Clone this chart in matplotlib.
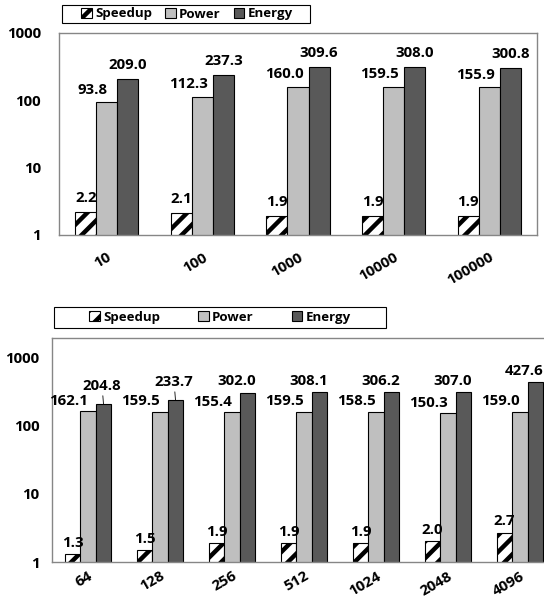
import matplotlib
matplotlib.use("Agg")
import matplotlib.pyplot as plt
from matplotlib.patches import Rectangle
import numpy as np

plt.rcParams['font.family'] = ['Open Sans', 'DejaVu Sans']
plt.rcParams['font.weight'] = 'bold'
plt.rcParams['hatch.linewidth'] = 3.2

# top chart data
top_labels = ['10', '100', '1000', '10000', '100000']
top_speedup = [2.2, 2.1, 1.9, 1.9, 1.9]
top_power = [93.8, 112.3, 160.0, 159.5, 155.9]
top_energy = [209.0, 237.3, 309.6, 308.0, 300.8]

# bottom chart data
bot_labels = ['64', '128', '256', '512', '1024', '2048', '4096']
bot_speedup = [1.3, 1.5, 1.9, 1.9, 1.9, 2.0, 2.7]
bot_power = [162.1, 159.5, 155.4, 159.5, 158.5, 150.3, 159.0]
bot_energy = [204.8, 233.7, 302.0, 308.1, 306.2, 307.0, 427.6]

power_col = '#bfbfbf'
energy_col = '#595959'
fs = 10.8      # numbers
lfs = 9.5      # legend

fig = plt.figure(figsize=(5.44, 6.02), dpi=100)


def draw(ax, labels, sp, pw, en, bw, ytop, pad, xpad, pw_dx, en_dx, gap, leaders=()):
    x = np.arange(len(labels))
    ax.bar(x - bw, sp, bw, bottom=0, color='white', edgecolor='black',
           hatch='//', linewidth=0.8, label='Speedup')
    ax.bar(x, pw, bw, color=power_col, edgecolor='black', linewidth=0.8, label='Power')
    ax.bar(x + bw, en, bw, color=energy_col, edgecolor='black', linewidth=0.8, label='Energy')
    ax.set_yscale('log')
    ax.set_ylim(1, ytop)
    ax.set_xlim(-0.5, len(labels) - 0.5)
    ax.set_yticks([1, 10, 100, 1000])
    ax.set_yticklabels(['1', '10', '100', '1000'], fontsize=fs, fontweight='bold')
    ax.minorticks_off()
    ax.set_xticks(x)
    ax.set_xticklabels(labels, rotation=30, ha='right', va='top',
                       rotation_mode='anchor', fontsize=fs, fontweight='bold')
    ax.tick_params(axis='y', length=0, pad=pad)
    ax.tick_params(axis='x', length=0, pad=xpad)
    for s in ax.spines.values():
        s.set_color('#868686')
        s.set_linewidth(1.0)
    for i in range(len(labels)):
        ax.annotate(f'{sp[i]:.1f}', (x[i] - bw, sp[i]), xytext=(0, gap),
                    textcoords='offset points', ha='center', va='bottom',
                    fontsize=fs, fontweight='bold')
        ax.annotate(f'{pw[i]:.1f}', (x[i], pw[i]), xytext=(pw_dx, gap * 0.8),
                    textcoords='offset points', ha='center', va='bottom',
                    fontsize=fs, fontweight='bold')
        if i in leaders:
            ax.annotate(f'{en[i]:.1f}', (x[i] + bw, en[i]), xytext=(-1, gap + 5),
                        textcoords='offset points', ha='center', va='bottom',
                        fontsize=fs, fontweight='bold',
                        arrowprops=dict(arrowstyle='-', color='black', lw=0.6,
                                        shrinkA=0, shrinkB=0))
        else:
            ax.annotate(f'{en[i]:.1f}', (x[i] + bw, en[i]), xytext=(en_dx, gap),
                        textcoords='offset points', ha='center', va='bottom',
                        fontsize=fs, fontweight='bold')


ax1 = fig.add_axes([59 / 544, 367 / 602, 478 / 544, 202 / 602])
draw(ax1, top_labels, top_speedup, top_power, top_energy, 0.22, 1000, 13, 11, -10, 0, 5)

ax2 = fig.add_axes([52 / 544, 40 / 602, 504 / 544, 224 / 602])
draw(ax2, bot_labels, bot_speedup, bot_power, bot_energy, 0.215, 1900, 9, 5, -14, -8, 3,
     leaders=(0, 1))

# legend boxes (x, y from bottom, w, h in pixels), column spacing, centre shift
for ax, box, cs, dx in [(ax1, (62, 579, 248, 18), 1.0, 1), (ax2, (54, 274, 332, 21), 2.9, 0)]:
    fig.patches.append(Rectangle((box[0] / 544, box[1] / 602), box[2] / 544, box[3] / 602,
                                 transform=fig.transFigure, fill=False,
                                 edgecolor='black', linewidth=0.8))
    h, l = ax.get_legend_handles_labels()
    fig.legend(h, l, loc='center', ncol=3,
               bbox_to_anchor=((box[0] + box[2] / 2 + dx) / 544, (box[1] + box[3] / 2) / 602),
               bbox_transform=fig.transFigure, frameon=False,
               borderaxespad=0, borderpad=0, handlelength=0.8, handleheight=0.8,
               handletextpad=0.25, columnspacing=cs,
               prop={'size': lfs, 'weight': 'bold'})

fig.savefig('out.png', dpi=100)
